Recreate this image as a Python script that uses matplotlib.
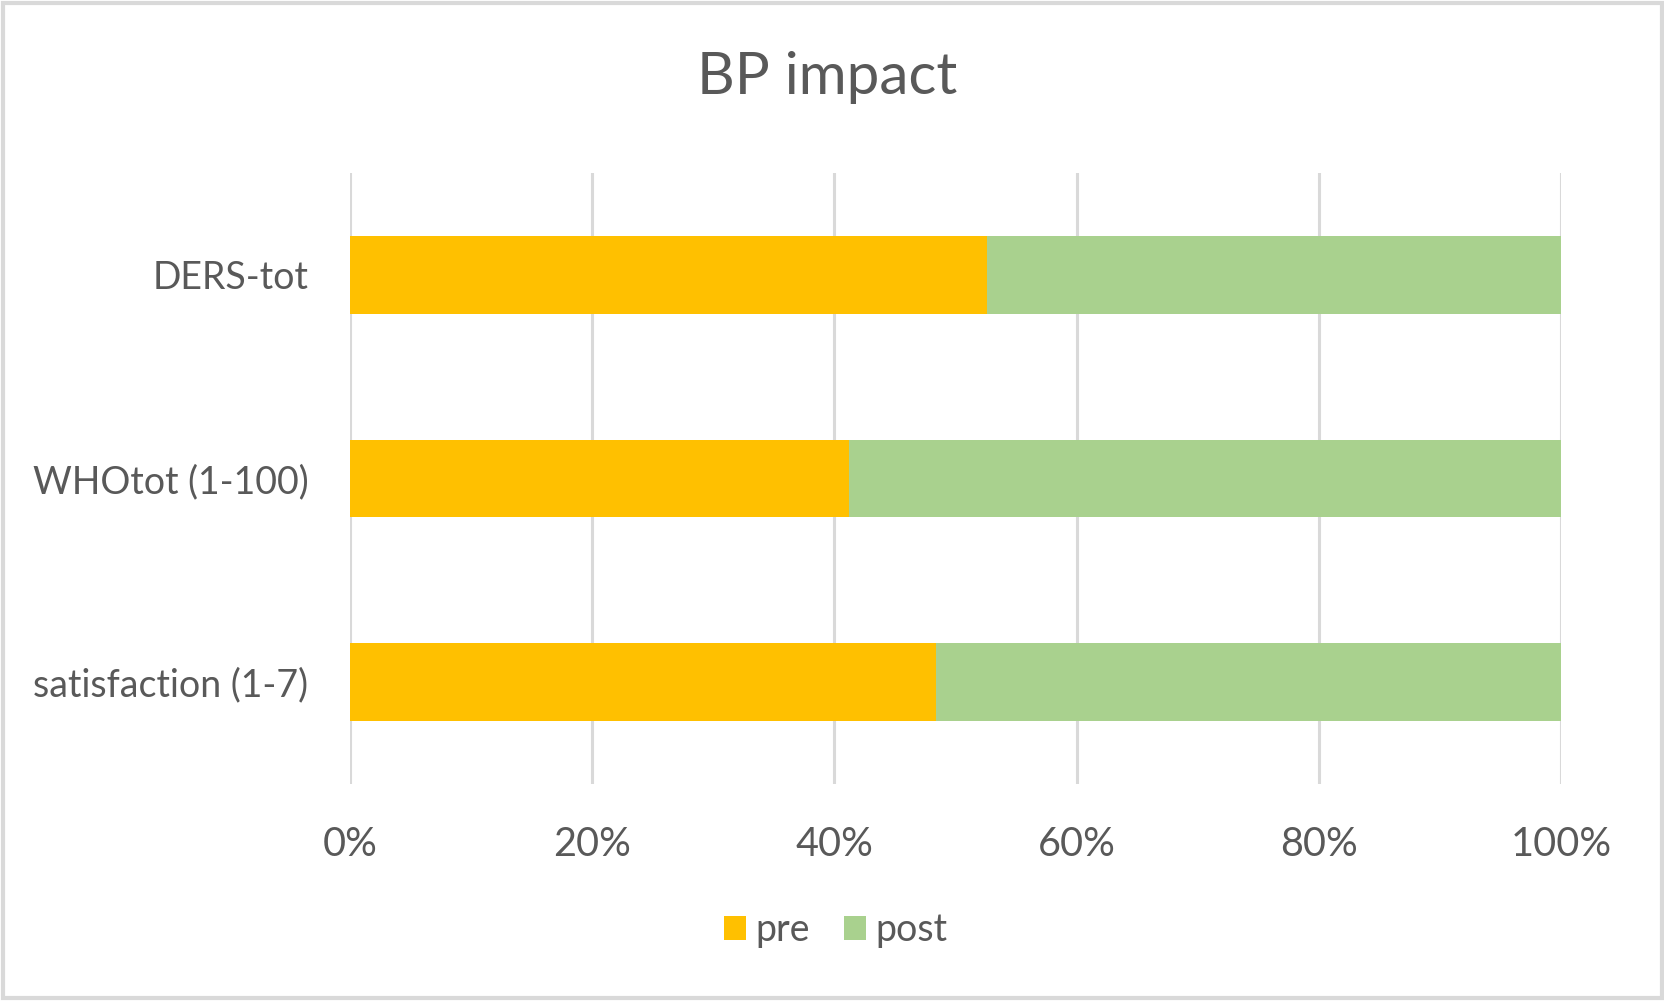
import matplotlib
matplotlib.use('Agg')
import matplotlib.pyplot as plt
from matplotlib.patches import Rectangle

plt.rcParams['font.family'] = ['Lato', 'DejaVu Sans']

# data (percent share)
categories = ['DERS-tot', 'WHOtot (1-100)', 'satisfaction (1-7)']
pre = [52.6, 41.2, 48.4]
post = [100 - v for v in pre]
ticks = [0, 20, 40, 60, 80, 100]
tick_labels = [f'{t}%' for t in ticks]

TEXT = '#595959'
GRID = '#d9d9d9'

fig = plt.figure(figsize=(16.65, 10.01), dpi=100)
ax = fig.add_axes([0.2102, 0.2168, 0.7273, 0.6104])

ypos = list(range(len(categories)))
ax.barh(ypos, pre, height=0.38, color='#FFC000', label='pre')
ax.barh(ypos, post, left=pre, height=0.38, color='#A9D18E', label='post')

ax.set_xlim(0, 100)
ax.set_ylim(len(categories) - 0.5, -0.5)
ax.set_xticks(ticks)
ax.set_xticklabels(tick_labels)
ax.set_yticks(ypos)
ax.set_yticklabels(categories)
ax.tick_params(axis='both', length=0, colors=TEXT)
ax.tick_params(axis='x', pad=30, labelsize=28.5)
ax.tick_params(axis='y', pad=30, labelsize=27)
ax.grid(axis='x', color=GRID, linewidth=2.2)
ax.set_axisbelow(True)
for s in ax.spines.values():
    s.set_visible(False)

fig.text(0.497, 0.923, 'BP impact', ha='center', va='center', fontsize=42, color=TEXT)

fig.legend(loc='center', bbox_to_anchor=(0.502, 0.071), ncol=2, frameon=False,
           fontsize=27, labelcolor=TEXT, handlelength=0.6, handleheight=0.6,
           handletextpad=0.25, columnspacing=0.9)

fig.patches.append(Rectangle((0.002, 0.003), 0.996, 0.994, transform=fig.transFigure,
                             fill=False, edgecolor=GRID, linewidth=3))

fig.savefig('out.png', dpi=100)
